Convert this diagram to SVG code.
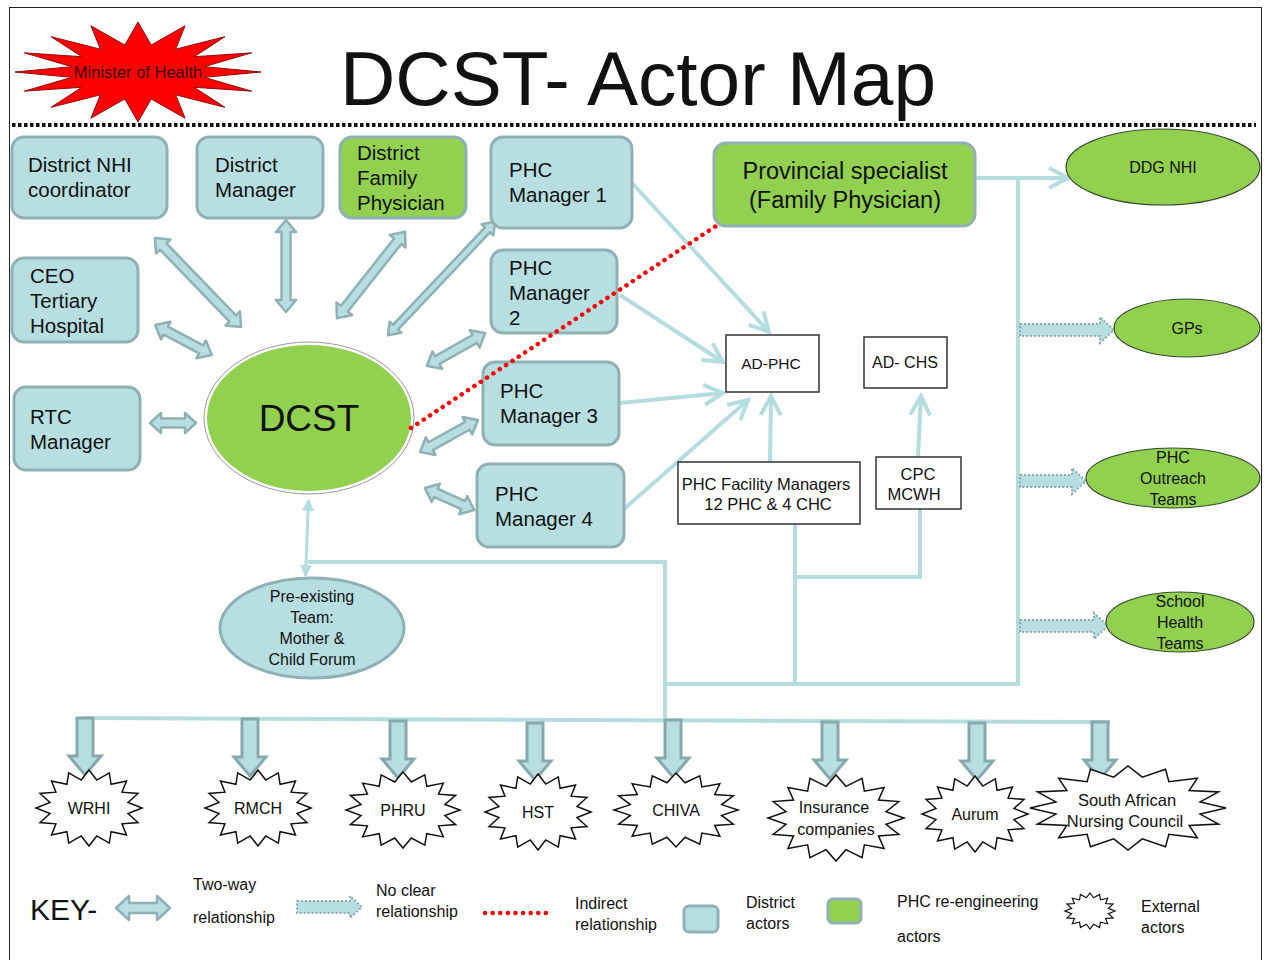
<svg xmlns="http://www.w3.org/2000/svg" width="1265" height="960" viewBox="0 0 1265 960">
<style>
  text { font-family: "Liberation Sans", Arial, sans-serif; fill: #111; }
  .dist { fill: #b7dfe2; stroke: #8fb1b4; stroke-width: 3; }
  .green { fill: #92d050; stroke: #8fb1b4; stroke-width: 3; }
  .gell { fill: #92d050; stroke: #3a4a30; stroke-width: 1.2; }
  .plain { fill: #fff; stroke: #333; stroke-width: 1.5; }
  .ext { fill: #fff; stroke: #111; stroke-width: 1.5; }
  .twoway { fill: #b7dfe2; stroke: #8fb1b4; stroke-width: 2.5; stroke-linejoin: round; }
  .noclear { fill: #b7dfe2; stroke: #8fa9ab; stroke-width: 2; stroke-dasharray: 2 2; }
  .down { fill: #b7dfe2; stroke: #86a9ac; stroke-width: 3; }
  .wire { fill: none; stroke: #b5dde0; stroke-width: 4; }
  .indirect { fill: none; stroke: #ff0000; stroke-width: 4.5; stroke-linecap: round; stroke-dasharray: 0.1 7.5; }
  .t20 { font-size: 20.5px; }
  .t16 { font-size: 16px; }
  .mid { text-anchor: middle; }
</style>
<defs>
  <marker id="chev" viewBox="0 0 12 12" refX="10.5" refY="6" markerWidth="24" markerHeight="24" markerUnits="userSpaceOnUse" orient="auto">
    <path d="M1,1 L10.5,6 L1,11" fill="none" stroke="#b5dde0" stroke-width="2"/>
  </marker>
  <marker id="tri" viewBox="0 0 10 10" refX="9" refY="5" markerWidth="12" markerHeight="14" markerUnits="userSpaceOnUse" orient="auto-start-reverse">
    <path d="M0,0 L10,5 L0,10 Z" fill="#b5dde0"/>
  </marker>
  <!-- 16-point starburst, radius 100 -->
  <polygon id="burst" points="100,0 73.6,14.6 92.4,38.3 62.4,41.7 70.7,70.7 41.7,62.4 38.3,92.4 14.6,73.6 0,100 -14.6,73.6 -38.3,92.4 -41.7,62.4 -70.7,70.7 -62.4,41.7 -92.4,38.3 -73.6,14.6 -100,0 -73.6,-14.6 -92.4,-38.3 -62.4,-41.7 -70.7,-70.7 -41.7,-62.4 -38.3,-92.4 -14.6,-73.6 0,-100 14.6,-73.6 38.3,-92.4 41.7,-62.4 70.7,-70.7 62.4,-41.7 92.4,-38.3 73.6,-14.6" vector-effect="non-scaling-stroke"/>
  <!-- spikier starburst for the headline actor -->
  <polygon id="spiky" points="100,0 53.9,10.7 92.4,38.3 45.7,30.6 70.7,70.7 30.6,45.7 38.3,92.4 10.7,53.9 0,100 -10.7,53.9 -38.3,92.4 -30.6,45.7 -70.7,70.7 -45.7,30.6 -92.4,38.3 -53.9,10.7 -100,0 -53.9,-10.7 -92.4,-38.3 -45.7,-30.6 -70.7,-70.7 -30.6,-45.7 -38.3,-92.4 -10.7,-53.9 0,-100 10.7,-53.9 38.3,-92.4 30.6,-45.7 70.7,-70.7 45.7,-30.6 92.4,-38.3 53.9,-10.7" vector-effect="non-scaling-stroke"/>
  <!-- downward block arrow -->
  <path id="downArrow" d="M-8,0 L8,0 L8,38 L16,38 L0,57 L-16,38 L-8,38 Z"/>
</defs>

<!-- frame and header -->
<rect x="9.5" y="7.5" width="1252" height="970" fill="none" stroke="#222" stroke-width="1"/>
<line x1="12" y1="125" x2="1256" y2="125" stroke="#111" stroke-width="4" stroke-dasharray="3.5 2.5"/>
<text x="340" y="105" font-size="76" textLength="596" lengthAdjust="spacingAndGlyphs" fill="#000">DCST- Actor Map</text>

<g id="minister">
  <use href="#spiky" transform="translate(138,72) scale(1.23,0.5)" fill="#ff0000" stroke="#8a1010" stroke-width="1"/>
  <text x="138" y="78" font-size="16.5" class="mid" style="fill:#3a0000">Minister of Health</text>
</g>

<!-- connectors -->
<g id="connectors">
  <!-- two-way relationships with DCST -->
  <path class="twoway" transform="translate(198,282.5) rotate(46)" d="M-62,0 L-50,-10 L-50,-4.5 L50,-4.5 L50,-10 L62,0 L50,10 L50,4.5 L-50,4.5 L-50,10Z"/>
  <path class="twoway" transform="translate(286,266) rotate(90)" d="M-46,0 L-34,-10 L-34,-4.5 L34,-4.5 L34,-10 L46,0 L34,10 L34,4.5 L-34,4.5 L-34,10Z"/>
  <path class="twoway" transform="translate(371,275) rotate(128.3)" d="M-55,0 L-43,-10 L-43,-4.5 L43,-4.5 L43,-10 L55,0 L43,10 L43,4.5 L-43,4.5 L-43,10Z"/>
  <path class="twoway" transform="translate(441.5,278.5) rotate(133.4)" d="M-78,0 L-67,-8 L-67,-3.5 L67,-3.5 L67,-8 L78,0 L67,8 L67,3.5 L-67,3.5 L-67,8Z"/>
  <path class="twoway" transform="translate(183.5,340) rotate(27.8)" d="M-32,0 L-20,-10 L-20,-4.5 L20,-4.5 L20,-10 L32,0 L20,10 L20,4.5 L-20,4.5 L-20,10Z"/>
  <path class="twoway" transform="translate(173,423)" d="M-23,0 L-12,-10 L-12,-4.5 L12,-4.5 L12,-10 L23,0 L12,10 L12,4.5 L-12,4.5 L-12,10Z"/>
  <path class="twoway" transform="translate(456,349.5) rotate(150.4)" d="M-33.5,0 L-21.5,-10 L-21.5,-4.5 L21.5,-4.5 L21.5,-10 L33.5,0 L21.5,10 L21.5,4.5 L-21.5,4.5 L-21.5,10Z"/>
  <path class="twoway" transform="translate(449,436) rotate(151)" d="M-33,0 L-21,-10 L-21,-4.5 L21,-4.5 L21,-10 L33,0 L21,10 L21,4.5 L-21,4.5 L-21,10Z"/>
  <path class="twoway" transform="translate(449.5,499) rotate(24.2)" d="M-27,0 L-15,-10 L-15,-4.5 L15,-4.5 L15,-10 L27,0 L15,10 L15,4.5 L-15,4.5 L-15,10Z"/>

  <!-- reporting lines into AD-PHC / AD-CHS -->
  <line class="wire" x1="632" y1="183" x2="769" y2="332" marker-end="url(#chev)"/>
  <line class="wire" x1="620" y1="295" x2="723" y2="362" marker-end="url(#chev)"/>
  <line class="wire" x1="620" y1="403" x2="723" y2="393" marker-end="url(#chev)"/>
  <line class="wire" x1="624" y1="509" x2="748" y2="400" marker-end="url(#chev)"/>
  <line class="wire" x1="770" y1="462" x2="771" y2="396" marker-end="url(#chev)"/>
  <line class="wire" x1="918" y1="457" x2="921" y2="396" marker-end="url(#chev)"/>

  <!-- provincial specialist links -->
  <line class="wire" x1="975" y1="178" x2="1068" y2="178" marker-end="url(#chev)"/>
  <polyline class="wire" points="1018,178 1018,684 665,684"/>
  <polyline class="wire" points="795,524 795,684"/>
  <polyline class="wire" points="795,577 920,577 920,509"/>

  <!-- DCST to forum and external actors -->
  <line x1="308.5" y1="500" x2="305.5" y2="576" stroke="#b5dde0" stroke-width="3" marker-start="url(#tri)" marker-end="url(#tri)"/>
  <polyline class="wire" points="308,562 665,562 665,718"/>
  <line class="wire" x1="83" y1="718" x2="1110" y2="722"/>

  <!-- no clear relationship -->
  <path class="noclear" d="M1020,324 L1100,324 L1100,317 L1114,330 L1100,343 L1100,336 L1020,336 Z"/>
  <path class="noclear" d="M1020,475 L1072,475 L1072,468 L1086,481 L1072,494 L1072,487 L1020,487 Z"/>
  <path class="noclear" d="M1020,620 L1094,620 L1094,613 L1108,626 L1094,639 L1094,632 L1020,632 Z"/>

  <!-- arrows down to external actors -->
  <use href="#downArrow" class="down" transform="translate(85,718)"/>
  <use href="#downArrow" class="down" transform="translate(250,719)"/>
  <use href="#downArrow" class="down" transform="translate(398,721)"/>
  <use href="#downArrow" class="down" transform="translate(535,723)"/>
  <use href="#downArrow" class="down" transform="translate(673,720)"/>
  <use href="#downArrow" class="down" transform="translate(830,722)"/>
  <use href="#downArrow" class="down" transform="translate(977,723)"/>
  <use href="#downArrow" class="down" transform="translate(1100,722)"/>
</g>

<!-- district actors -->
<g id="district-nhi"><rect class="dist" x="12" y="137" width="155" height="81" rx="12"/>
  <text class="t20" x="28" y="172">District NHI</text><text class="t20" x="28" y="197">coordinator</text></g>
<g id="district-manager"><rect class="dist" x="197" y="137" width="126" height="81" rx="12"/>
  <text class="t20" x="215" y="172">District</text><text class="t20" x="215" y="197">Manager</text></g>
<g id="district-fp"><rect class="green" x="340" y="137" width="126" height="81" rx="12"/>
  <text class="t20" x="357" y="160">District</text><text class="t20" x="357" y="185">Family</text><text class="t20" x="357" y="210">Physician</text></g>
<g id="phc-manager-1"><rect class="dist" x="491" y="137" width="141" height="91" rx="12"/>
  <text class="t20" x="509" y="177">PHC</text><text class="t20" x="509" y="202">Manager 1</text></g>
<g id="ceo"><rect class="dist" x="12" y="258" width="126" height="84" rx="12"/>
  <text class="t20" x="30" y="283">CEO</text><text class="t20" x="30" y="308">Tertiary</text><text class="t20" x="30" y="333">Hospital</text></g>
<g id="phc-manager-2"><rect class="dist" x="491" y="250" width="126" height="83" rx="12"/>
  <text class="t20" x="509" y="275">PHC</text><text class="t20" x="509" y="300">Manager</text><text class="t20" x="509" y="325">2</text></g>
<g id="rtc-manager"><rect class="dist" x="14" y="387" width="126" height="83" rx="12"/>
  <text class="t20" x="30" y="424">RTC</text><text class="t20" x="30" y="449">Manager</text></g>
<g id="phc-manager-3"><rect class="dist" x="483" y="362" width="136" height="83" rx="12"/>
  <text class="t20" x="500" y="398">PHC</text><text class="t20" x="500" y="423">Manager 3</text></g>
<g id="phc-manager-4"><rect class="dist" x="477" y="464" width="147" height="83" rx="12"/>
  <text class="t20" x="495" y="501">PHC</text><text class="t20" x="495" y="526">Manager 4</text></g>
<g id="provincial-specialist"><rect class="green" x="714" y="143" width="261" height="83" rx="12"/>
  <text x="845" y="179" font-size="23.5" class="mid">Provincial specialist</text><text x="845" y="208" font-size="23.5" class="mid">(Family Physician)</text></g>

<g id="dcst">
  <ellipse cx="309" cy="418" rx="105" ry="76" fill="#fff" stroke="#999" stroke-width="1"/>
  <ellipse cx="309" cy="418" rx="102" ry="73" fill="#92d050"/>
  <text x="309" y="431" font-size="37" class="mid" fill="#000">DCST</text>
</g>

<g id="mother-child-forum">
  <ellipse class="dist" cx="312" cy="628" rx="92" ry="50" stroke-width="2.5"/>
  <text class="t16 mid" x="312" y="602">Pre-existing</text><text class="t16 mid" x="312" y="623">Team:</text>
  <text class="t16 mid" x="312" y="644">Mother &amp;</text><text class="t16 mid" x="312" y="665">Child Forum</text>
</g>

<g id="ad-phc"><rect class="plain" x="726" y="335" width="93" height="57"/><text x="771" y="369" font-size="15.5" class="mid">AD-PHC</text></g>
<g id="ad-chs"><rect class="plain" x="864" y="337" width="83" height="51"/><text x="905" y="368" font-size="16" class="mid">AD- CHS</text></g>
<g id="phc-facility"><rect class="plain" x="678" y="462" width="182" height="62"/>
  <text x="766" y="490" font-size="16.5" class="mid">PHC Facility Managers</text><text x="768" y="510" font-size="16.5" class="mid">12 PHC &amp; 4 CHC</text></g>
<g id="cpc-mcwh"><rect class="plain" x="876" y="457" width="85" height="52"/>
  <text x="918" y="480" font-size="16.5" class="mid">CPC</text><text x="914" y="500" font-size="16.5" class="mid">MCWH</text></g>

<!-- PHC re-engineering actors -->
<g id="ddg-nhi"><ellipse class="gell" cx="1163" cy="167" rx="97" ry="38"/><text class="t16 mid" x="1163" y="173">DDG NHI</text></g>
<g id="gps"><ellipse class="gell" cx="1187" cy="328" rx="73" ry="29"/><text class="t16 mid" x="1187" y="334">GPs</text></g>
<g id="outreach"><ellipse class="gell" cx="1173" cy="478" rx="87" ry="30"/>
  <text class="t16 mid" x="1173" y="463">PHC</text><text class="t16 mid" x="1173" y="484">Outreach</text><text class="t16 mid" x="1173" y="505">Teams</text></g>
<g id="school-health"><ellipse class="gell" cx="1180" cy="622" rx="74" ry="30"/>
  <text class="t16 mid" x="1180" y="607">School</text><text class="t16 mid" x="1180" y="628">Health</text><text class="t16 mid" x="1180" y="649">Teams</text></g>

<!-- external actors -->
<g id="wrhi"><use href="#burst" class="ext" transform="translate(89,808) scale(0.53,0.38)"/><text class="t16 mid" x="89" y="814">WRHI</text></g>
<g id="rmch"><use href="#burst" class="ext" transform="translate(258,808) scale(0.53,0.38)"/><text class="t16 mid" x="258" y="814">RMCH</text></g>
<g id="phru"><use href="#burst" class="ext" transform="translate(403,810) scale(0.57,0.38)"/><text class="t16 mid" x="403" y="816">PHRU</text></g>
<g id="hst"><use href="#burst" class="ext" transform="translate(538,812) scale(0.53,0.38)"/><text class="t16 mid" x="538" y="818">HST</text></g>
<g id="chiva"><use href="#burst" class="ext" transform="translate(676,810) scale(0.62,0.37)"/><text class="t16 mid" x="676" y="816">CHIVA</text></g>
<g id="insurance"><use href="#burst" class="ext" transform="translate(836,818) scale(0.68,0.43)"/>
  <text class="t16 mid" x="834" y="813">Insurance</text><text class="t16 mid" x="836" y="835">companies</text></g>
<g id="aurum"><use href="#burst" class="ext" transform="translate(975,814) scale(0.53,0.38)"/><text class="t16 mid" x="975" y="820">Aurum</text></g>
<g id="sanc"><use href="#burst" class="ext" transform="translate(1128,808) scale(0.98,0.42)"/>
  <text x="1127" y="806" font-size="16.5" class="mid">South African</text><text x="1125" y="827" font-size="16.5" class="mid">Nursing Council</text></g>

<!-- indirect relationship, drawn over the manager boxes -->
<g id="indirect-link">
  <line class="indirect" x1="411" y1="428" x2="716" y2="226"/>
</g>

<!-- key -->
<g id="key">
  <text x="30" y="920" font-size="30" fill="#000">KEY-</text>
  <path class="twoway" transform="translate(143,908)" d="M-27,0 L-14,-12 L-14,-5 L14,-5 L14,-12 L27,0 L14,12 L14,5 L-14,5 L-14,12Z"/>
  <text class="t16" x="193" y="890">Two-way</text><text class="t16" x="193" y="923">relationship</text>
  <path class="noclear" d="M297,901 L350,901 L350,896 L362,907 L350,918 L350,913 L297,913 Z"/>
  <text class="t16" x="376" y="896">No clear</text><text class="t16" x="376" y="917">relationship</text>
  <line class="indirect" x1="485" y1="913" x2="552" y2="913"/>
  <text class="t16" x="575" y="909">Indirect</text><text class="t16" x="575" y="930">relationship</text>
  <rect class="dist" x="684" y="906" width="34" height="26" rx="5"/>
  <text class="t16" x="746" y="908">District</text><text class="t16" x="746" y="929">actors</text>
  <rect class="green" x="828" y="899" width="33" height="24" rx="5"/>
  <text class="t16" x="897" y="907">PHC re-engineering</text><text class="t16" x="897" y="942">actors</text>
  <use href="#burst" class="ext" transform="translate(1090,911) scale(0.25,0.18)" style="stroke-width:1.2"/>
  <text class="t16" x="1141" y="912">External</text><text class="t16" x="1141" y="933">actors</text>
</g>
</svg>
